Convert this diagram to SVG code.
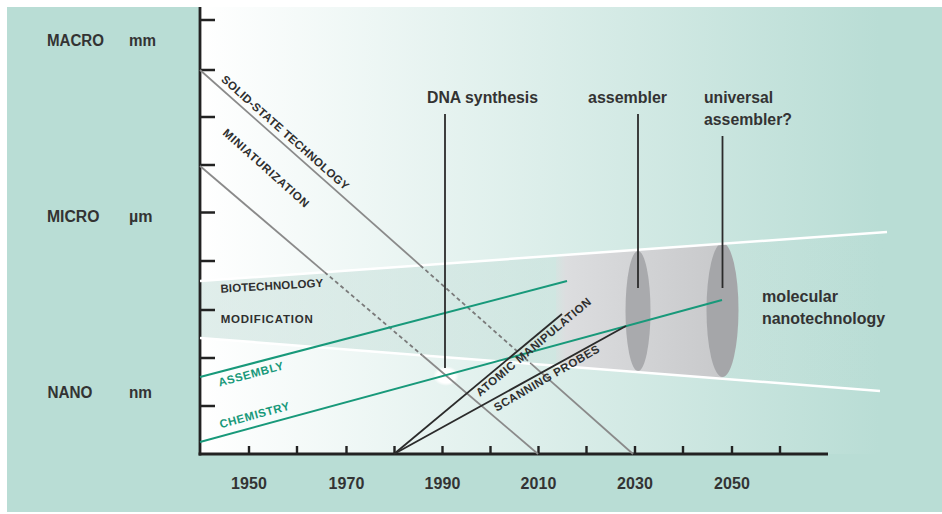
<svg xmlns="http://www.w3.org/2000/svg" width="942" height="514" viewBox="0 0 942 514">
<defs>
<linearGradient id="bg" gradientUnits="userSpaceOnUse" x1="200" y1="0" x2="880" y2="0">
<stop offset="0" stop-color="#ffffff"/>
<stop offset="1" stop-color="#b9ddd5"/>
</linearGradient>
<linearGradient id="bandg" gradientUnits="userSpaceOnUse" x1="200" y1="0" x2="887" y2="0">
<stop offset="0" stop-color="#b5d5ce" stop-opacity="0.42"/>
<stop offset="0.5" stop-color="#b5d5ce" stop-opacity="0.3"/>
<stop offset="1" stop-color="#b5d5ce" stop-opacity="0"/>
</linearGradient>
<linearGradient id="cyl" gradientUnits="userSpaceOnUse" x1="556" y1="0" x2="722" y2="0">
<stop offset="0" stop-color="#dedfe0" stop-opacity="0.3"/>
<stop offset="0.06" stop-color="#dcdddf" stop-opacity="1"/>
<stop offset="1" stop-color="#c8c9cb"/>
</linearGradient>
<radialGradient id="blob">
<stop offset="0" stop-color="#ffffff"/>
<stop offset="0.7" stop-color="#ffffff"/>
<stop offset="1" stop-color="#ffffff" stop-opacity="0"/>
</radialGradient>
<style>
.big{font-family:"Liberation Sans",Arial,sans-serif;font-weight:bold;font-size:16px;fill:#333333}
.yr{font-family:"Liberation Sans",Arial,sans-serif;font-weight:bold;font-size:16px;fill:#333333;text-anchor:middle}
.sm{font-family:"Liberation Sans",Arial,sans-serif;font-weight:bold;font-size:11.5px;fill:#2f2f2f}
.smg{font-family:"Liberation Sans",Arial,sans-serif;font-weight:bold;font-size:11.5px;fill:#18997a}
.ax{stroke:#222222;stroke-width:2.8;fill:none}
.tk{stroke:#222222;stroke-width:2.4;fill:none}
.grey{stroke:#8a8a8a;stroke-width:1.8;fill:none}
.dash{stroke:#7a7a7a;stroke-width:1.8;fill:none;stroke-dasharray:4 3}
.green{stroke:#18997a;stroke-width:2;fill:none}
.blk{stroke:#2b2b2b;stroke-width:1.8;fill:none}
.wht{stroke:#ffffff;stroke-width:2.5;fill:none}
</style>
</defs>
<rect x="0" y="0" width="942" height="514" fill="#ffffff"/>
<rect x="7" y="7" width="935" height="505" fill="#b9ddd5"/>
<rect x="200" y="7" width="742" height="447" fill="url(#bg)"/>
<g id="band">
<polygon points="200,281 887,232 880,391 200,338" fill="url(#bandg)"/>
</g>
<g id="cylinder">
<path d="M556,255.6 L722.5,243.8 L722.5,378.7 L556,365.7 Z" fill="url(#cyl)"/>
<ellipse cx="638" cy="311" rx="12.5" ry="60" fill="#a9aaad"/>
<ellipse cx="722.5" cy="310" rx="16" ry="67" fill="#a5a6a9"/>
</g>
<ellipse id="dna-blob" cx="446" cy="376" rx="13" ry="10" fill="url(#blob)"/>
<g id="axes">
<line class="ax" x1="200" y1="7" x2="200" y2="455.4"/>
<line class="ax" x1="198.6" y1="454" x2="828" y2="454"/>
<path class="tk" d="M200,20h15M200,70h15M200,117h15M200,165h15M200,212.5h15M200,261h15M200,310h15M200,358h15M200,406h15"/>
<path class="tk" d="M249,454v-8M297,454v-8M346.5,454v-8M394.5,454v-8M442.5,454v-8M490.5,454v-8M538.5,454v-8M586.5,454v-8M635,454v-8M683,454v-8M732,454v-8M780,454v-8"/>
<text class="yr" x="249" y="489" textLength="36">1950</text>
<text class="yr" x="346.5" y="489" textLength="36">1970</text>
<text class="yr" x="442.5" y="489" textLength="36">1990</text>
<text class="yr" x="538.5" y="489" textLength="36">2010</text>
<text class="yr" x="635" y="489" textLength="36">2030</text>
<text class="yr" x="732" y="489" textLength="36">2050</text>
</g>
<g id="scale-labels">
<text class="big" x="47" y="45.5" textLength="57" lengthAdjust="spacingAndGlyphs">MACRO</text>
<text class="big" x="129" y="45.5" textLength="27" lengthAdjust="spacingAndGlyphs">mm</text>
<text class="big" x="47" y="221.5" textLength="52.5" lengthAdjust="spacingAndGlyphs">MICRO</text>
<text class="big" x="129" y="221.5" textLength="23.5" lengthAdjust="spacingAndGlyphs">µm</text>
<text class="big" x="47.5" y="398" textLength="45" lengthAdjust="spacingAndGlyphs">NANO</text>
<text class="big" x="129" y="398" textLength="23" lengthAdjust="spacingAndGlyphs">nm</text>
</g>
<g id="connectors">
<line class="wht" x1="200" y1="281" x2="887" y2="232"/>
<line class="wht" x1="200" y1="338" x2="880" y2="391"/>
<polyline class="grey" points="200,70 420.2,265.3"/>
<polyline class="dash" points="420.2,265.3 531.3,363.8"/>
<polyline class="grey" points="531.3,363.8 633,454"/>
<polyline class="grey" points="200,166 324.5,272.1"/>
<polyline class="dash" points="324.5,272.1 422.2,355.3"/>
<polyline class="grey" points="422.2,355.3 538,454"/>
<line class="green" x1="200" y1="377" x2="567" y2="281"/>
<line class="green" x1="200" y1="442" x2="722" y2="300"/>
<line class="blk" x1="394" y1="454" x2="562" y2="314"/>
<line class="blk" x1="394" y1="454" x2="626" y2="326"/>
<line class="blk" x1="445" y1="114" x2="445" y2="368"/>
<line class="blk" x1="638" y1="114" x2="638" y2="288"/>
<line class="blk" x1="722.5" y1="136" x2="722.5" y2="288"/>
</g>
<g id="solid-state">
<text class="sm" transform="translate(220.5,80.5) rotate(41.6)" textLength="166">SOLID-STATE TECHNOLOGY</text>
</g>
<g id="miniaturization">
<text class="sm" transform="translate(222,134) rotate(41.8)" textLength="111">MINIATURIZATION</text>
</g>
<g id="biotechnology">
<text class="sm" transform="translate(220.7,292.7) rotate(-3.3)" textLength="103">BIOTECHNOLOGY</text>
<text class="sm" x="220.7" y="322.7" textLength="92">MODIFICATION</text>
</g>
<g id="assembly">
<text class="smg" transform="translate(219.5,386.5) rotate(-15)" textLength="67">ASSEMBLY</text>
</g>
<g id="chemistry">
<text class="smg" transform="translate(220.7,428.3) rotate(-15.2)" textLength="72">CHEMISTRY</text>
</g>
<g id="atomic-manipulation">
<text class="sm" transform="translate(480,397) rotate(-40)" textLength="146">ATOMIC MANIPULATION</text>
</g>
<g id="scanning-probes">
<text class="sm" transform="translate(496.7,411.7) rotate(-30.2)" textLength="120">SCANNING PROBES</text>
</g>
<g id="dna-synthesis">
<text class="big" x="427" y="103" textLength="111" lengthAdjust="spacingAndGlyphs">DNA synthesis</text>
</g>
<g id="assembler">
<text class="big" x="588" y="103" textLength="79" lengthAdjust="spacingAndGlyphs">assembler</text>
</g>
<g id="universal-assembler">
<text class="big" x="704" y="103" textLength="69" lengthAdjust="spacingAndGlyphs">universal</text>
<text class="big" x="704" y="125" textLength="88" lengthAdjust="spacingAndGlyphs">assembler?</text>
</g>
<g id="molecular-nanotechnology">
<text class="big" x="762" y="302" textLength="76" lengthAdjust="spacingAndGlyphs">molecular</text>
<text class="big" x="762" y="324" textLength="123" lengthAdjust="spacingAndGlyphs">nanotechnology</text>
</g>
</svg>
